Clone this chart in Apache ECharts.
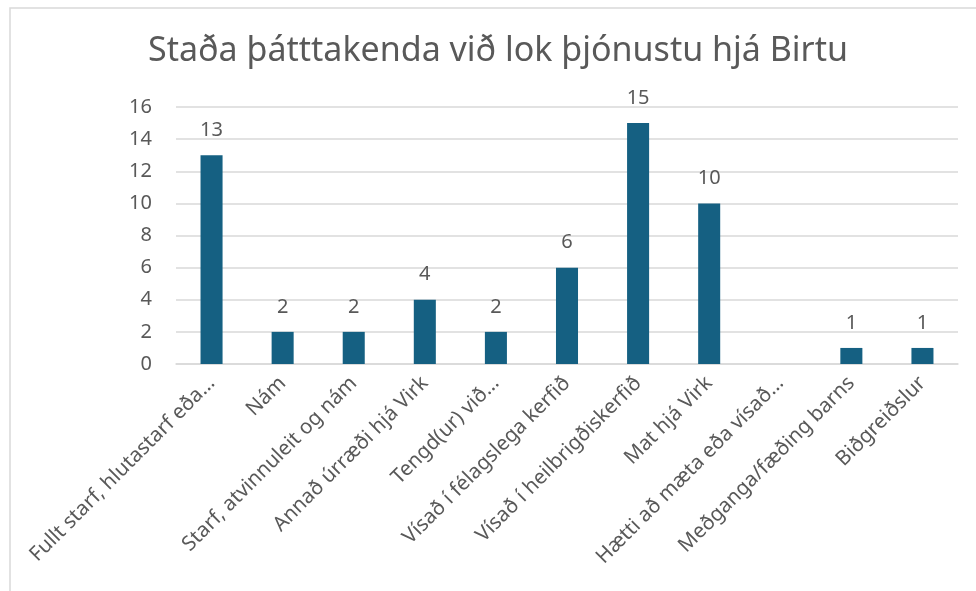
<!DOCTYPE html>
<html>
<head>
<meta charset="utf-8">
<script src="https://cdn.jsdelivr.net/npm/echarts@6/dist/echarts.min.js"></script>
<style>
  html, body { margin: 0; padding: 0; background: #fff; }
  #chart { width: 976px; height: 591px; }
</style>
</head>
<body>
<div id="chart"></div>
<script>
const categories = [
  'Fullt starf, hlutastarf eða…',
  'Nám',
  'Starf, atvinnuleit og nám',
  'Annað úrræði hjá Virk',
  'Tengd(ur) við…',
  'Vísað í félagslega kerfið',
  'Vísað í heilbrigðiskerfið',
  'Mat hjá Virk',
  'Hætti að mæta eða vísað…',
  'Meðganga/fæðing barns',
  'Biðgreiðslur'
];
const values = [13, 2, 2, 4, 2, 6, 15, 10, 0, 1, 1];
const yTicks = [0, 2, 4, 6, 8, 10, 12, 14, 16];

const textColor = '#595959';
const font = 'Noto Sans';

const chart = echarts.init(document.getElementById('chart'));

chart.setOption({
  animation: false,
  title: {
    text: 'Staða þátttakenda við lok þjónustu hjá Birtu',
    left: 143,
    top: 29,
    textStyle: { fontFamily: font, fontSize: 34, fontWeight: 'normal', color: textColor }
  },
  // chart frame, only its top and left edges are visible
  graphic: [{
    type: 'rect',
    shape: { x: 10, y: 8, width: 1000, height: 620 },
    style: { fill: 'none', stroke: '#d9d9d9', lineWidth: 1.5 },
    silent: true
  }],
  grid: { left: 176, right: 18, top: 107, bottom: 227 },
  xAxis: {
    type: 'category',
    data: categories,
    axisLine: { lineStyle: { color: '#d9d9d9', width: 1.5 } },
    axisTick: { show: false },
    axisLabel: {
      interval: 0,
      rotate: 45,
      margin: 16,
      color: textColor,
      fontFamily: font,
      fontSize: 20.5
    }
  },
  yAxis: {
    type: 'value',
    min: yTicks[0],
    max: yTicks[yTicks.length - 1],
    interval: 2,
    axisLine: { show: false },
    axisTick: { show: false },
    splitLine: { lineStyle: { color: '#d9d9d9', width: 1.5 } },
    axisLabel: { color: textColor, fontFamily: font, fontSize: 20, margin: 24 }
  },
  series: [{
    type: 'bar',
    data: values,
    barWidth: '31%',
    itemStyle: { color: '#156082' },
    label: {
      show: true,
      position: 'top',
      distance: 15,
      color: textColor,
      fontFamily: font,
      fontSize: 20,
      formatter: p => (p.value === 0 ? '' : p.value)
    }
  }]
});
</script>
</body>
</html>
